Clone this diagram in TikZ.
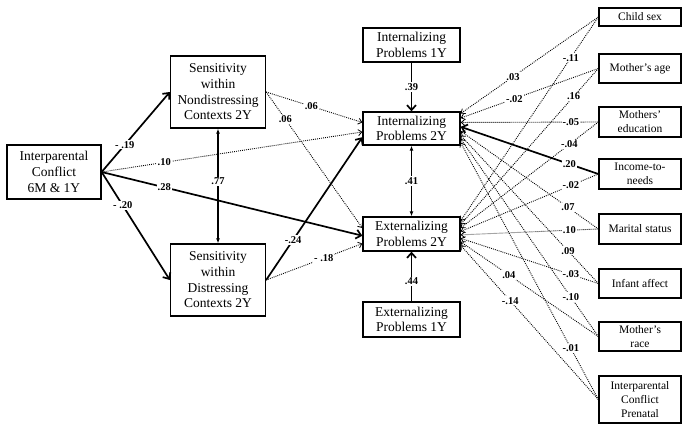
\documentclass[tikz,border=0pt]{standalone}
\usepackage{fontspec}
\setmainfont{Liberation Serif}
\usetikzlibrary{arrows.meta}

\begin{document}
\begin{tikzpicture}[x=1pt, y=-1pt,
  box/.style={draw, line width=1.3pt, align=center, inner sep=0pt, font=\fontsize{13.5}{15.7}\selectfont},
  cov/.style={draw, line width=1.3pt, align=center, inner sep=0pt, minimum width=82pt, font=\fontsize{11.5}{14}\selectfont},
  sig/.style={line width=1.7pt, -{Straight Barb[length=5pt,width=9pt]}},
  nsig/.style={line width=.9pt, dash pattern=on .9pt off 1.1pt, -{Straight Barb[length=3.5pt,width=6pt,line width=.8pt]}},
  both/.style={line width=1.5pt, {Latex[length=5pt,width=4pt]}-{Latex[length=5pt,width=4pt]}},
  coef/.style={fill=white, inner sep=1pt, font=\fontsize{10.5}{12}\selectfont\bfseries}]
\useasboundingbox (0,0) rectangle (686,429);
\node[box, minimum width=94pt, minimum height=54pt] (ic) at (54,172) {Interparental\\Conflict\\6M \& 1Y};
\node[box, minimum width=95pt, minimum height=72pt] (snd) at (218,92) {Sensitivity\\within\\Nondistressing\\Contexts 2Y};
\node[box, minimum width=95pt, minimum height=72pt] (sd) at (218,280) {Sensitivity\\within\\Distressing\\Contexts 2Y};
\node[box, minimum width=97pt, minimum height=34pt] (int1) at (411.5,45) {Internalizing\\Problems 1Y};
\node[box, minimum width=97pt, minimum height=33pt] (int2) at (411.5,128.5) {Internalizing\\Problems 2Y};
\node[box, minimum width=97pt, minimum height=34pt] (ext2) at (411.5,234) {Externalizing\\Problems 2Y};
\node[box, minimum width=97pt, minimum height=35pt] (ext1) at (411.5,319.5) {Externalizing\\Problems 1Y};
\node[cov, minimum height=18pt] (sex) at (640,17) {Child sex};
\node[cov, minimum height=29pt] (age) at (640,68.5) {Mother’s age};
\node[cov, minimum height=30pt] (edu) at (640,122) {Mothers’\\education};
\node[cov, minimum height=30pt] (inc) at (640,174) {Income-to-\\needs};
\node[cov, minimum height=30pt] (mar) at (640,229) {Marital status};
\node[cov, minimum height=29pt] (aff) at (640,283.5) {Infant affect};
\node[cov, minimum height=29pt] (race) at (640,336.5) {Mother’s\\race};
\node[cov, minimum height=47pt] (icp) at (640,399.5) {Interparental\\Conflict\\Prenatal};
\draw[sig] (ic.east) -- node[coef, pos=.34] {- .19} (snd.west);
\draw[sig] (ic.east) -- node[coef, pos=.31] {- .20} (sd.west);
\draw[nsig] (ic.east) -- node[coef, pos=.24] {.10} (int2.184);
\draw[sig] (ic.east) -- node[coef, pos=.24] {.28} (ext2.182);
\draw[both] (snd) -- node[coef, pos=.46] {.77} (sd);
\draw[nsig] (snd.east) -- node[coef, pos=.47] {.06} (int2.173);
\draw[nsig] (snd.east) -- node[coef, pos=.2] {.06} (ext2.173);
\draw[sig] (sd.east) -- node[coef, pos=.28] {-.24} (int2.190);
\draw[nsig] (sd.east) -- node[coef, pos=.6] {- .18} (ext2.191);
\draw[sig] (int1) -- node[coef] {.39} (int2);
\draw[both] (int2) -- node[coef] {.41} (ext2);
\draw[sig] (ext1) -- node[coef, pos=.4] {.44} (ext2);
\draw[nsig] (sex.west) -- node[coef, pos=.62] {.03} (int2.17);
\draw[nsig] (sex.west) -- node[coef, pos=.2] {-.11} (ext2.15);
\draw[nsig] (age.west) -- node[coef, pos=.61] {-.02} (int2.12);
\draw[nsig] (age.west) -- node[coef, pos=.18] {.16} (ext2.11);
\draw[nsig] (edu.west) -- node[coef, pos=.2] {-.05} (int2.7);
\draw[nsig] (edu.west) -- node[coef, pos=.21] {-.04} (ext2.7);
\draw[sig] (inc.west) -- node[coef, pos=.21] {.20} (int2.2);
\draw[nsig] (inc.west) -- node[coef, pos=.2] {-.02} (ext2.3);
\draw[nsig] (mar.west) -- node[coef, pos=.22] {.07} (int2.-3);
\draw[nsig] (mar.west) -- node[coef, pos=.21] {.10} (ext2.-1);
\draw[nsig] (aff.west) -- node[coef, pos=.22] {.09} (int2.-8);
\draw[nsig] (aff.west) -- node[coef, pos=.2] {-.03} (ext2.-5);
\draw[nsig] (race.west) -- node[coef, pos=.2] {-.10} (int2.-12);
\draw[nsig] (race.west) -- node[coef, pos=.65] {.04} (ext2.-9);
\draw[nsig] (icp.west) -- node[coef, pos=.2] {-.01} (int2.-16);
\draw[nsig] (icp.west) -- node[coef, pos=.64] {-.14} (ext2.-13);
\end{tikzpicture}
\end{document}
